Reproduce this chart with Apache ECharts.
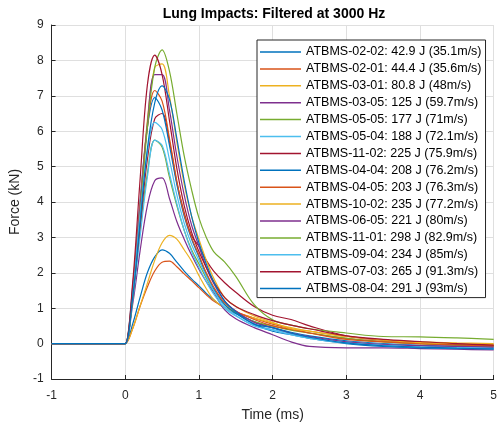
<!DOCTYPE html>
<html>
<head>
<meta charset="utf-8">
<script src="https://cdn.jsdelivr.net/npm/echarts@6/dist/echarts.min.js"></script>
<style>
  html, body { margin: 0; padding: 0; background: #fff; }
  #chart { width: 500px; height: 427px; }
</style>
</head>
<body>
<div id="chart"></div>
<script>
// Lung impacts, force vs time, filtered at 3000 Hz
const timeMs = [-1, -0.05, 0, 0.1, 0.2, 0.3, 0.4, 0.5, 0.6, 0.7, 0.8, 0.9, 1.0, 1.1, 1.2, 1.35, 1.5, 1.75, 2.0, 2.25, 2.5, 3.0, 3.5, 4.0, 4.5, 5.0];

const testNames = [
  "ATBMS-02-02: 42.9 J (35.1m/s)",
  "ATBMS-02-01: 44.4 J (35.6m/s)",
  "ATBMS-03-01: 80.8 J (48m/s)",
  "ATBMS-03-05: 125 J (59.7m/s)",
  "ATBMS-05-05: 177 J (71m/s)",
  "ATBMS-05-04: 188 J (72.1m/s)",
  "ATBMS-11-02: 225 J (75.9m/s)",
  "ATBMS-04-04: 208 J (76.2m/s)",
  "ATBMS-04-05: 203 J (76.3m/s)",
  "ATBMS-10-02: 235 J (77.2m/s)",
  "ATBMS-06-05: 221 J (80m/s)",
  "ATBMS-11-01: 298 J (82.9m/s)",
  "ATBMS-09-04: 234 J (85m/s)",
  "ATBMS-07-03: 265 J (91.3m/s)",
  "ATBMS-08-04: 291 J (93m/s)"
];

// force in kN, one value per timeMs entry
const f0202 = [0, 0, 0, 0.55, 1.3, 2.0, 2.45, 2.65, 2.55, 2.3, 2.05, 1.83, 1.63, 1.42, 1.24, 1.0, 0.85, 0.62, 0.45, 0.32, 0.22, 0.08, 0.0, -0.05, -0.08, -0.1];
const f0201 = [0, 0, 0, 0.42, 1.05, 1.6, 2.05, 2.3, 2.33, 2.17, 1.97, 1.78, 1.58, 1.38, 1.2, 1.02, 0.9, 0.72, 0.55, 0.42, 0.3, 0.15, 0.06, 0.0, -0.04, -0.06];
const f0301 = [0, 0, 0, 0.42, 1.05, 1.7, 2.35, 2.85, 3.06, 2.95, 2.65, 2.33, 1.92, 1.55, 1.25, 1.0, 0.88, 0.72, 0.58, 0.45, 0.35, 0.2, 0.1, 0.05, 0.02, 0.0];
const f0305 = [0, 0, 0, 1.1, 2.6, 3.9, 4.6, 4.68, 4.1, 3.45, 2.95, 2.5, 2.1, 1.75, 1.45, 0.95, 0.7, 0.45, 0.25, 0.05, -0.08, -0.12, -0.12, -0.14, -0.16, -0.18];
const f0505 = [0, 0, 0, 1.3, 3.2, 4.8, 5.75, 5.55, 4.7, 3.9, 3.2, 2.65, 2.25, 1.85, 1.5, 1.1, 0.88, 0.62, 0.5, 0.38, 0.3, 0.15, 0.05, 0.0, -0.05, -0.08];
const f0504 = [0, 0, 0, 1.2, 3.0, 4.7, 5.75, 5.6, 4.8, 3.95, 3.2, 2.6, 2.15, 1.75, 1.4, 1.0, 0.78, 0.52, 0.4, 0.28, 0.18, 0.05, -0.02, -0.06, -0.1, -0.12];
const f1102 = [0, 0, 0, 1.3, 3.3, 5.2, 6.35, 6.5, 5.7, 4.55, 3.7, 3.05, 2.75, 2.35, 2.05, 1.72, 1.45, 1.05, 0.8, 0.68, 0.5, 0.22, 0.1, 0.02, -0.02, -0.05];
const f0404 = [0, 0, 0, 1.6, 4.0, 6.1, 6.95, 6.6, 5.6, 4.5, 3.6, 2.95, 2.45, 1.95, 1.55, 1.1, 0.85, 0.55, 0.35, 0.25, 0.15, 0.0, -0.08, -0.12, -0.14, -0.15];
const f0405 = [0, 0, 0, 1.5, 3.9, 6.1, 7.15, 6.85, 5.8, 4.6, 3.65, 3.0, 2.5, 2.0, 1.6, 1.15, 0.92, 0.68, 0.5, 0.4, 0.3, 0.12, 0.05, 0.0, -0.04, -0.07];
const f1002 = [0, 0, 0, 1.4, 3.8, 6.3, 7.8, 7.9, 7.0, 5.7, 4.5, 3.6, 2.95, 2.35, 1.85, 1.3, 1.05, 0.78, 0.6, 0.42, 0.35, 0.2, 0.1, 0.03, 0.0, -0.02];
const f0605 = [0, 0, 0, 1.4, 3.8, 6.2, 7.6, 7.6, 6.6, 5.3, 4.2, 3.35, 2.75, 2.15, 1.7, 1.2, 0.92, 0.6, 0.45, 0.3, 0.2, 0.05, -0.02, -0.06, -0.08, -0.1];
const f1101 = [0, 0, 0, 1.3, 3.6, 6.1, 7.8, 8.3, 7.7, 6.5, 5.3, 4.35, 3.55, 3.0, 2.6, 2.3, 1.9, 1.1, 0.67, 0.52, 0.42, 0.3, 0.2, 0.19, 0.16, 0.12];
const f0904 = [0, 0, 0, 1.4, 3.6, 5.4, 6.25, 6.05, 5.2, 4.2, 3.4, 2.8, 2.35, 1.9, 1.5, 1.05, 0.8, 0.5, 0.38, 0.25, 0.15, 0.02, -0.05, -0.1, -0.12, -0.14];
const f0703 = [0, 0, 0, 1.7, 4.6, 7.3, 8.15, 7.6, 6.3, 4.95, 3.9, 3.15, 2.6, 2.15, 1.75, 1.3, 1.05, 0.82, 0.65, 0.52, 0.42, 0.22, 0.12, 0.06, 0.0, -0.04];
const f0804 = [0, 0, 0, 1.3, 3.4, 5.5, 6.8, 7.28, 6.9, 5.8, 4.6, 3.6, 2.85, 2.25, 1.75, 1.2, 0.9, 0.55, 0.45, 0.3, 0.18, 0.02, -0.06, -0.1, -0.13, -0.15];

const forces = [f0202, f0201, f0301, f0305, f0505, f0504, f1102, f0404, f0405, f1002, f0605, f1101, f0904, f0703, f0804];

// matlab default line order
const lineColors = ["#0072BD", "#D95319", "#EDB120", "#7E2F8E", "#77AC30", "#4DBEEE", "#A2142F"];

const FONT = "'Liberation Sans', Arial, Helvetica, sans-serif";
const INK = "#262626";

const chart = echarts.init(document.getElementById("chart"), null, { renderer: "canvas" });

chart.setOption({
  animation: false,
  color: lineColors,
  textStyle: { fontFamily: FONT },
  title: {
    text: "Lung Impacts: Filtered at 3000 Hz",
    left: 274,
    textAlign: "center",
    top: 7,
    padding: 0,
    textStyle: { fontFamily: FONT, fontSize: 14, fontWeight: "bold", color: "#000" }
  },
  grid: { left: 51, right: 3, top: 25, bottom: 48, containLabel: false },
  legend: {
    orient: "vertical",
    left: 257,
    top: 40,
    padding: [5, 4, 2, 3],
    icon: "rect",
    itemWidth: 41,
    itemHeight: 1.5,
    itemGap: 2.9,
    backgroundColor: "#fff",
    borderColor: INK,
    borderWidth: 1,
    borderRadius: 0,
    textStyle: { fontFamily: FONT, fontSize: 12.5, color: "#000", lineHeight: 14 },
    data: testNames
  },
  xAxis: {
    type: "value",
    min: -1,
    max: 5,
    interval: 1,
    name: "Time (ms)",
    nameLocation: "middle",
    nameGap: 29,
    nameTextStyle: { fontFamily: FONT, fontSize: 14, color: INK },
    axisLine: { show: true, onZero: false, lineStyle: { color: INK, width: 1 } },
    axisTick: { show: true, inside: true, length: 4, lineStyle: { color: INK } },
    axisLabel: { color: INK, fontSize: 12, fontFamily: FONT, margin: 11 },
    splitLine: { show: true, lineStyle: { color: "#dfdfdf", width: 1 } }
  },
  yAxis: {
    type: "value",
    min: -1,
    max: 9,
    interval: 1,
    name: "Force (kN)",
    nameLocation: "middle",
    nameGap: 24,
    nameTextStyle: { fontFamily: FONT, fontSize: 14, color: INK },
    axisLine: { show: true, onZero: false, lineStyle: { color: INK, width: 1 } },
    axisTick: { show: true, inside: true, length: 4, lineStyle: { color: INK } },
    axisLabel: { color: INK, fontSize: 12, fontFamily: FONT, margin: 8 },
    splitLine: { show: true, lineStyle: { color: "#dfdfdf", width: 1 } }
  },
  series: forces.map((vals, i) => ({
    name: testNames[i],
    type: "line",
    symbol: "none",
    smooth: 0.35,
    color: lineColors[i % lineColors.length],
    lineStyle: { width: 1.2 },
    data: timeMs.map((t, j) => [t, vals[j]])
  }))
});
</script>
</body>
</html>
